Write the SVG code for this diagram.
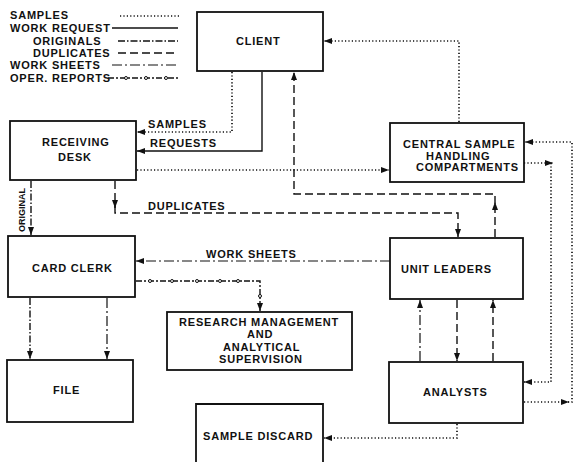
<svg xmlns="http://www.w3.org/2000/svg" width="574" height="462" viewBox="0 0 574 462">
<defs>
<style>
text{font-family:"Liberation Sans",Arial,sans-serif;font-weight:bold;font-size:11px;letter-spacing:0.8px;fill:#111}
.box{fill:none;stroke:#111;stroke-width:1.8}
.c{fill:none;stroke:#111;stroke-width:1.4}
.samp{stroke-dasharray:1.2 2.2;stroke-width:1.7}
.orig{stroke-dasharray:7 2 1.5 2}
.dup{stroke-dasharray:8 4}
.ws{stroke-dasharray:10 3 2 3;stroke-width:1.2}
.oper{stroke-dasharray:6 2 2 2}
.a{marker-end:url(#arr)}
.dot{fill:#fff;stroke:#111;stroke-width:1}
</style>
<marker id="arr" viewBox="0 0 8 6" refX="8" refY="3" markerWidth="8" markerHeight="6" markerUnits="userSpaceOnUse" orient="auto">
<path d="M0,0 L8,3 L0,6 Z" fill="#111"/>
</marker>
</defs>
<rect width="574" height="462" fill="#fff"/>

<g id="legend">
<text x="10" y="19">SAMPLES</text>
<text x="10" y="32">WORK REQUEST</text>
<text x="33" y="45">ORIGINALS</text>
<text x="33" y="57">DUPLICATES</text>
<text x="10" y="69">WORK SHEETS</text>
<text x="10" y="82">OPER. REPORTS</text>
<line class="c samp" x1="120" y1="16" x2="180" y2="16"/>
<line class="c" x1="112" y1="28" x2="178" y2="28"/>
<line class="c orig" x1="118" y1="41" x2="178" y2="41"/>
<line class="c dup" x1="118" y1="53" x2="178" y2="53"/>
<line class="c ws" x1="112" y1="65" x2="178" y2="65"/>
<line class="c oper" x1="108" y1="78" x2="178" y2="78"/>
<circle class="dot" cx="126" cy="78" r="1.5"/>
<circle class="dot" cx="146" cy="78" r="1.5"/>
<circle class="dot" cx="166" cy="78" r="1.5"/>
</g>

<g id="client"><rect class="box" x="197" y="12" width="126" height="59"/><text x="236" y="45">CLIENT</text></g>
<g id="receiving-desk"><rect class="box" x="10" y="121" width="126" height="59"/><text x="42" y="146">RECEIVING</text><text x="58" y="161">DESK</text></g>
<g id="central-sample"><rect class="box" x="390" y="123" width="134" height="59"/><text x="403" y="148">CENTRAL SAMPLE</text><text x="426" y="160">HANDLING</text><text x="416" y="171">COMPARTMENTS</text></g>
<g id="card-clerk"><rect class="box" x="8" y="236" width="127" height="61"/><text x="32" y="272">CARD CLERK</text></g>
<g id="unit-leaders"><rect class="box" x="390" y="238" width="133" height="61"/><text x="401" y="273">UNIT LEADERS</text></g>
<g id="research"><rect class="box" x="167" y="312" width="185" height="58"/><text x="179" y="326">RESEARCH MANAGEMENT</text><text x="247" y="338">AND</text><text x="223" y="351">ANALYTICAL</text><text x="219" y="363">SUPERVISION</text></g>
<g id="file"><rect class="box" x="7" y="360" width="126" height="62"/><text x="53" y="394">FILE</text></g>
<g id="analysts"><rect class="box" x="389" y="362" width="134" height="61"/><text x="423" y="396">ANALYSTS</text></g>
<g id="sample-discard"><path class="box" d="M196,465 V404 H323 V465"/><text x="203" y="440">SAMPLE DISCARD</text></g>

<g id="connectors">
<path class="c samp a" d="M232,72 V132 H137"/>
<text x="148" y="128">SAMPLES</text>
<path class="c a" d="M262,72 V151 H137"/>
<text x="150" y="147">REQUESTS</text>
<path class="c samp a" d="M137,170 H389"/>
<path class="c samp a" d="M459,122 V41 H324"/>
<path class="c dup a" d="M495,237 V202"/>
<path class="c dup a" d="M495,204 V194 H294 V72"/>
<path class="c dup a" d="M115,181 V208"/>
<path class="c dup a" d="M115,206 V213 H458 V237"/>
<text x="148" y="210">DUPLICATES</text>
<path class="c orig a" d="M31,181 V235"/>
<text transform="translate(25,232) rotate(-90)" style="font-size:9px;letter-spacing:0">ORIGINAL</text>
<path class="c ws a" d="M390,261 H136"/>
<text x="206" y="258">WORK SHEETS</text>
<path class="c oper a" d="M136,281 H260 V311"/>
<circle class="dot" cx="150" cy="281" r="1.5"/>
<circle class="dot" cx="172" cy="281" r="1.5"/>
<circle class="dot" cx="197" cy="281" r="1.5"/>
<circle class="dot" cx="220" cy="281" r="1.5"/>
<circle class="dot" cx="238" cy="281" r="1.5"/>
<circle class="dot" cx="260" cy="296" r="1.5"/>
<path class="c orig a" d="M30,298 V359"/>
<path class="c ws a" d="M107,298 V359"/>
<path class="c ws a" d="M420,361 V300"/>
<path class="c dup a" d="M457,300 V361"/>
<path class="c dup a" d="M493,361 V300"/>
<path class="c samp a" d="M457,424 V438 H324"/>
<path class="c samp a" d="M524,402 H569"/>
<path class="c samp a" d="M568,402 H572 V142 H525"/>
<path class="c samp a" d="M524,163 H553"/>
<path class="c samp a" d="M551,163 V382 H524"/>
</g>
</svg>
